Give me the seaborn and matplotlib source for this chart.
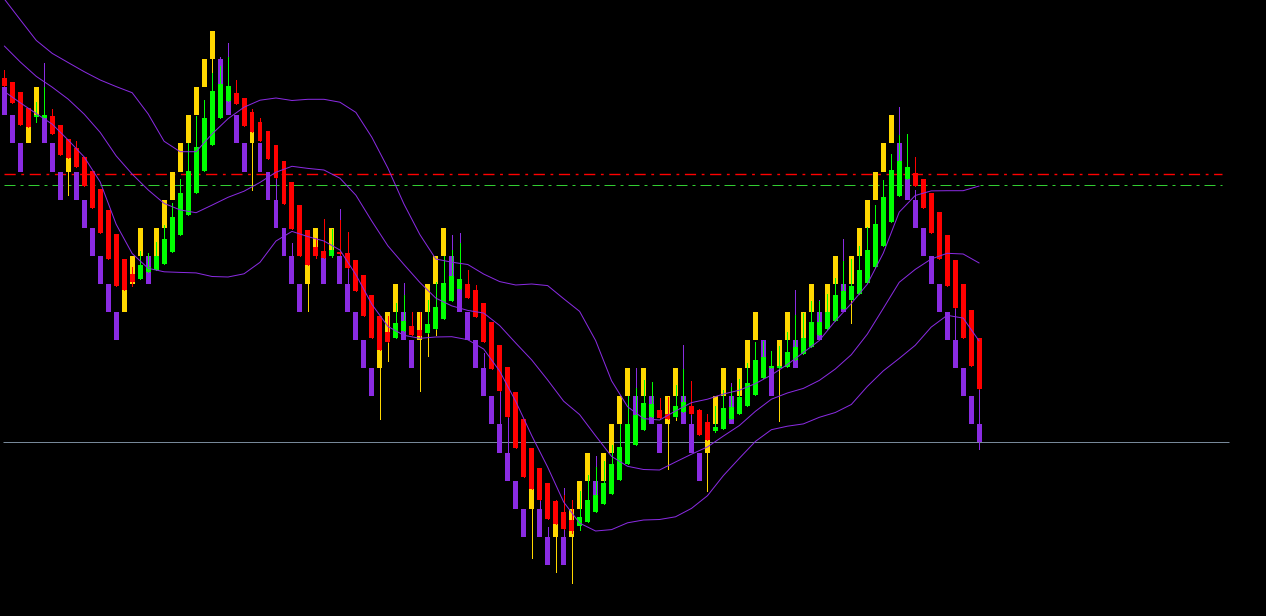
import matplotlib
matplotlib.use("Agg")
import matplotlib.pyplot as plt
import seaborn as sns
import numpy as np

# ---------------- data (price units) ----------------
candle_open = [
    522.3, 518.3, 508.3, 492, 482.7, 481.7, 484, 475, 461, 452.3,
    443, 429, 411, 390, 366, 341, 326, 321, 328.3, 330,
    336, 348.3, 365, 385, 407.3, 429, 455, 482.3, 499, 507.3,
    502, 488, 478, 469, 455, 439, 418, 395, 370, 353,
    349, 344.3, 347.7, 347, 340, 325, 305, 284, 268.3, 262.3,
    269, 274, 270, 267.3, 271, 281, 299, 311, 316, 310,
    297, 278.3, 255, 233, 208, 181, 152, 132.3, 117, 99,
    88, 80, 74.3, 78.3, 88.3, 96, 106, 120, 136, 155,
    170, 182.7, 190, 186, 183, 188, 194, 190, 178, 169,
    171, 181, 186, 194, 205, 222, 232, 232, 233, 240,
    246, 253, 265, 271, 279, 291, 300, 306, 317, 333,
    354, 378, 404, 421, 427, 421, 407, 388, 365, 340,
    316, 290, 262]
candle_high = [
    530, 518.3, 508.3, 492, 498, 513.3, 491, 475, 461, 459,
    443, 429, 411, 390, 366, 341, 333.3, 349, 347.3, 358.3,
    375, 397.3, 421, 456.7, 484, 500, 527.3, 534, 543.3, 520,
    502, 490.7, 482.3, 469, 455, 439, 418, 395, 370, 362,
    381, 371, 380, 368.3, 340, 325, 305, 284, 284, 297.3,
    305, 288.3, 288.3, 300, 318.3, 344.3, 350, 356.7, 330, 315,
    297, 278.3, 255, 233, 208, 181, 152, 132.3, 117, 100,
    105, 100, 109, 125, 133.3, 139, 155, 176, 204, 212,
    220, 218, 202, 203, 215, 231, 219, 191, 186, 194,
    210, 213.3, 221, 237, 258, 259, 249, 254, 268, 285,
    287, 299, 299, 306, 322, 339, 341, 354, 373, 395,
    420, 446, 465, 466, 443, 421, 407, 388, 365, 340,
    316, 290, 262]
candle_low = [
    514, 497.3, 475, 473, 478, 481.7, 466, 445, 441.7, 433.3,
    414.3, 392.3, 367, 341.3, 314.3, 310, 314.3, 321, 328, 330,
    336, 348.3, 365, 385, 407.3, 429, 455, 482.3, 499, 496,
    474, 468, 459, 441, 422.3, 396, 371, 344, 335, 342.3,
    341.7, 343.3, 345, 332.3, 309.3, 284.3, 262.3, 250, 257.7, 262.3,
    269, 265, 263.3, 267.3, 271, 281, 299, 311, 302.3, 283.3,
    258.3, 231, 209, 183.3, 152, 123.3, 111, 100, 81, 76.3,
    71, 67, 69.7, 78.3, 88.3, 96, 106, 120, 136, 155,
    170, 182.7, 182, 181, 183, 188, 186, 165, 160, 168,
    171, 181, 186, 194, 205, 222, 232, 232, 233, 240,
    246, 253, 265, 271, 279, 291, 300, 306, 317, 333,
    354, 378, 404, 421, 414.3, 392.3, 367, 341.3, 314, 292.3,
    262, 234.3, 211.3]
candle_close = [
    514, 497.3, 475, 473, 485, 485, 466, 445, 441.7, 433.3,
    414.3, 392.3, 367, 341.3, 314.3, 310, 318.3, 335, 333.3, 344,
    361, 383.3, 407.3, 429, 453.3, 482.3, 509, 516, 514.3, 496,
    474, 468, 459, 441, 422.3, 396, 371, 344, 335, 344,
    341.7, 350, 345.7, 332.3, 309.3, 284.3, 262.3, 250, 258.3, 277.3,
    279, 265, 264.3, 276, 293, 317, 324, 321, 302.3, 283.3,
    258.3, 231, 209, 183.3, 152, 123.3, 111, 100, 81, 76.3,
    71, 69, 83, 100, 105, 117.3, 136, 153, 176, 185,
    197, 196, 182, 181, 194, 198, 186, 165, 160, 173,
    192, 193.3, 203, 217, 240, 243, 234, 234, 248, 253,
    262, 278, 278, 288, 305, 309, 314, 330, 350, 376,
    403, 430, 439, 433, 414.3, 392.3, 367, 341.3, 314, 292.3,
    262, 234.3, 211.3]

# brick (box) series: level index of each brick's upper edge, and its direction
brick_level = [
    2, 3, 4, 3, 2, 3, 4, 5, 4, 5, 6, 7, 8, 9, 10, 9, 8, 7, 8, 7,
    6, 5, 4, 3, 2, 1, 0, 1, 2, 3, 4, 3, 4, 5, 6, 7, 8, 9, 8, 7,
    8, 7, 8, 9, 10, 11, 12, 11, 10, 9, 10, 11, 10, 9, 8, 7, 8, 9, 10, 11,
    12, 13, 14, 15, 16, 17, 16, 17, 18, 17, 18, 17, 16, 15, 16, 15, 14, 13, 12, 13,
    12, 13, 14, 13, 12, 13, 14, 15, 14, 13, 12, 13, 12, 11, 10, 11, 12, 11, 10, 11,
    10, 9, 10, 9, 8, 9, 8, 7, 6, 5, 4, 3, 4, 5, 6, 7, 8, 9, 10, 11,
    12, 13, 14]
brick_dir = ("DDDUUDDDUD" "DDDDDUUUDU" "UUUUUUUDDD" "DUDDDDDDUU"
             "DUDDDDDUUU" "DDUUUUDDDD" "DDDDDDUDDU" "DUUUDUUUUD"
             "UDDUUDDDUU" "UDUUUDDUUD" "UUDUUDUUUU" "UUDDDDDDDD" "DDD")
brick_wick_high = {5: 536.7, 27: 543.3, 28: 557.3, 34: 423, 36: 357, 42: 391, 43: 333,
                   50: 317, 56: 365, 57: 367, 60: 247, 62: 209, 63: 183, 67: 100,
                   68: 73.3, 70: 112, 74: 144, 79: 232, 85: 255, 86: 186, 91: 217,
                   99: 310, 102: 300, 105: 361, 112: 493, 114: 410, 119: 293, 122: 211.3}
brick_wick_low = {8: 405, 26: 527, 31: 410, 38: 289, 47: 181, 48: 239, 52: 209,
                  53: 244.3, 54: 265, 66: 42.3, 69: 28.3, 71: 16.7, 83: 131, 84: 180,
                  88: 109, 97: 179.3, 106: 277.3, 122: 151}
brick_size = 28.1
brick_origin = 569.0

# three envelope lines, read every second bar
band_bars = list(range(0, 121, 2)) + [122]
band_upper = [
    601, 580.2, 559.6, 546.6, 537.4, 528.3, 520, 513.4, 507.3, 486.1,
    458.7, 448.3, 448.3, 466, 481.3, 492.8, 499.8, 502, 499.5, 500.7,
    500.7, 497.8, 487.6, 462.7, 432, 396.2, 365.5, 341, 337.8, 335.5,
    325.9, 318.4, 315, 316, 314.4, 301.3, 288.6, 259.5, 219.2, 193.3,
    181.4, 180, 189, 197.4, 200.8, 206, 209.8, 216.4, 225, 235.5,
    247.5, 259.5, 279.1, 296.5, 315.8, 346.8, 387.9, 404.5, 409.1, 409.3,
    409.3, 414]
band_mid = [
    554, 538, 523.6, 512.8, 500.8, 485.8, 467.6, 444.1, 425.9, 410.1,
    396.6, 390.1, 387.3, 394.9, 402.7, 408.8, 417.6, 427.8, 433.7, 431.6,
    430, 421.8, 404.8, 378.8, 354.2, 335.6, 317.6, 301.9, 294.1, 289.6,
    286.9, 274.4, 257, 240.1, 220, 198.8, 185.4, 164.2, 143.6, 133.7,
    130.5, 130, 138, 145.8, 153.1, 164, 174.5, 188.7, 200.8, 207,
    211.6, 219.6, 231, 245.3, 265.8, 291.6, 317.7, 330.6, 341, 346.7,
    346, 337]
band_lower = [
    508.5, 497.2, 486.4, 475.8, 459.9, 443, 418, 375.7, 346.5, 331.7,
    328.2, 327.6, 327.1, 323.5, 323, 326.2, 337.7, 359, 368.6, 363.4,
    359, 350, 325.3, 295.7, 273.6, 264.7, 261.7, 263, 263.3, 260.3,
    250.9, 228.8, 198.7, 164.5, 132.9, 98, 76.9, 69, 70.4, 77.2,
    80, 80.5, 83.2, 91.6, 104.3, 124.5, 141.8, 158.6, 170.3, 173.8,
    176.1, 182.7, 187.5, 195.5, 213.5, 229.1, 241.6, 254.7, 272.9, 284.7,
    281.9, 259]

level_red = 425.7
level_green = 414.7
bid_price = 157.7

# ---------------- drawing ----------------
sns.set_theme(style="dark", rc={"axes.facecolor": "black", "figure.facecolor": "black",
                                 "savefig.facecolor": "black"})

PX = 0.72  # one pixel in points at dpi 100
fig = plt.figure(figsize=(12.66, 6.16), dpi=100)
ax = fig.add_axes([0, 0, 1, 1])
ax.set_facecolor("black")

n = len(candle_open)
x = np.arange(n)
bw = 0.62

col_up_brick, col_dn_brick = "#FFD700", "#8A2BE2"
col_up_candle, col_dn_candle = "#00FF00", "#FF0000"

# horizontal levels (behind the bars)
ax.hlines(level_red, 0, 152.4, colors="#FF0000", linewidth=1.4 * PX,
          linestyles=(0, (8, 4, 2, 4)), zorder=1)
ax.hlines(level_green, 0, 152.4, colors="#32CD32", linewidth=PX,
          linestyles=(0, (11, 5, 3, 5)), zorder=1)
ax.hlines(bid_price, -0.16, 153.3, colors="#778899", linewidth=PX, zorder=1)

# bricks
tops = np.array([brick_origin - brick_size * k for k in brick_level])
bots = tops - brick_size
bots[-1] = bid_price  # last brick still forming, closes at current price
bcols = [col_up_brick if d == "U" else col_dn_brick for d in brick_dir]

for i, hi in brick_wick_high.items():
    ax.vlines(i, min(hi, tops[i]), max(hi, tops[i]), colors=bcols[i], linewidth=PX,
              antialiased=False, zorder=2)
for i, lo in brick_wick_low.items():
    ax.vlines(i, lo, bots[i], colors=bcols[i], linewidth=PX, antialiased=False, zorder=2)

ax.bar(x, tops - bots, bottom=bots, width=bw, color=bcols, linewidth=0,
       antialiased=False, zorder=3)

# candles
o = np.array(candle_open); c = np.array(candle_close)
h = np.array(candle_high); l = np.array(candle_low)
ccols = [col_up_candle if cc >= oo else col_dn_candle for oo, cc in zip(o, c)]
ax.vlines(x, l, h, colors=ccols, linewidth=PX, antialiased=False, zorder=4)
body_lo = np.minimum(o, c)
body_h = np.maximum(np.abs(c - o), 1.0)
ax.bar(x, body_h, bottom=body_lo, width=bw, color=ccols, linewidth=0,
       antialiased=False, zorder=5)

# envelope lines
for vals in (band_upper, band_mid, band_lower):
    sns.lineplot(x=band_bars, y=vals, ax=ax, color="#8A2BE2", linewidth=PX,
                 estimator=None, sort=False, zorder=6, legend=False)

ax.set_xlim(-0.54, 157.9)
ax.set_ylim(-16, 600)
ax.set_axis_off()

fig.savefig("out.png", dpi=100, facecolor="black")
